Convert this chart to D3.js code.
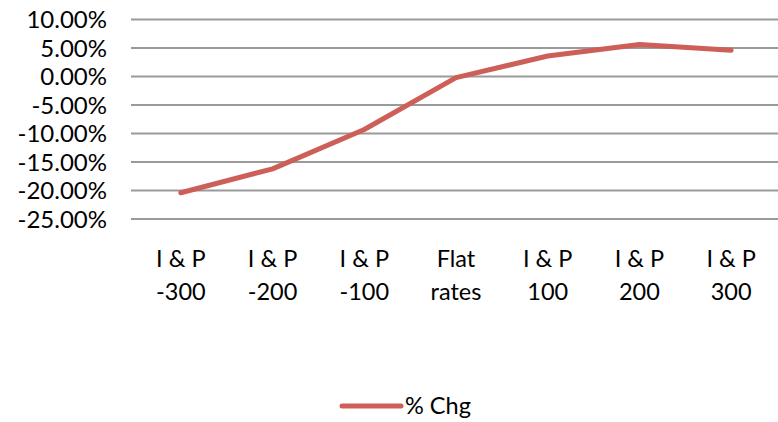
<!DOCTYPE html>
<html>
<head>
<meta charset="utf-8">
<script src="https://cdn.jsdelivr.net/npm/d3@7"></script>
<style>
  body { margin: 0; background: #fff; }
  text { font-family: Lato, "Open Sans", sans-serif; fill: #000; }
</style>
</head>
<body>
<script>
// data
let categories = ["I & P|-300", "I & P|-200", "I & P|-100", "Flat|rates", "I & P|100", "I & P|200", "I & P|300"];
let pctChg = [-20.4, -16.2, -9.3, -0.2, 3.6, 5.6, 4.6];
let yTicks = [10, 5, 0, -5, -10, -15, -20, -25];
let seriesName = "% Chg";

function main(){
    let width = 778;
    let height = 422;
    let lineColor = "#cd5f58";

    let svg = d3.select("body").append("svg")
        .attr("width", width)
        .attr("height", height);

    let x = d3.scaleBand()
        .domain(categories)
        .range([135, 777]);

    let y = d3.scaleLinear()
        .domain([-25, 10])
        .range([219, 19.5]);

    // gridlines
    svg.append("g").selectAll("line")
        .data(yTicks)
        .enter()
        .append("line")
        .attr("x1", 131)
        .attr("x2", width)
        .attr("y1", d => y(d))
        .attr("y2", d => y(d))
        .style("stroke", "#9a9a9a")
        .style("stroke-width", 2);

    // y labels
    svg.append("g").selectAll("text")
        .data(yTicks)
        .enter()
        .append("text")
        .attr("x", 107)
        .attr("y", d => y(d))
        .attr("dy", "0.36em")
        .attr("text-anchor", "end")
        .style("font-size", "24px")
        .text(d => d.toFixed(2) + "%");

    // x labels (two lines)
    let xl = svg.append("g").selectAll("text")
        .data(categories)
        .enter()
        .append("text")
        .attr("text-anchor", "middle")
        .style("font-size", "23.5px");
    xl.append("tspan")
        .attr("x", d => x(d) + x.bandwidth() / 2)
        .attr("y", 267)
        .text(d => d.split("|")[0]);
    xl.append("tspan")
        .attr("x", d => x(d) + x.bandwidth() / 2)
        .attr("y", 300)
        .text(d => d.split("|")[1]);

    let line = d3.line()
        .x((d, i) => x(categories[i]) + x.bandwidth() / 2)
        .y(d => y(d));

    svg.append("path")
        .datum(pctChg)
        .attr("d", line)
        .style("fill", "none")
        .style("stroke", lineColor)
        .style("stroke-width", 5)
        .style("stroke-linecap", "round")
        .style("stroke-linejoin", "round");

    // legend
    let lg = svg.append("g");
    lg.append("line")
        .attr("x1", 342)
        .attr("x2", 401)
        .attr("y1", 406)
        .attr("y2", 406)
        .style("stroke", lineColor)
        .style("stroke-width", 5)
        .style("stroke-linecap", "round");
    lg.append("text")
        .attr("x", 405)
        .attr("y", 414)
        .style("font-size", "23.5px")
        .text(seriesName);
}

main();
</script>
</body>
</html>
